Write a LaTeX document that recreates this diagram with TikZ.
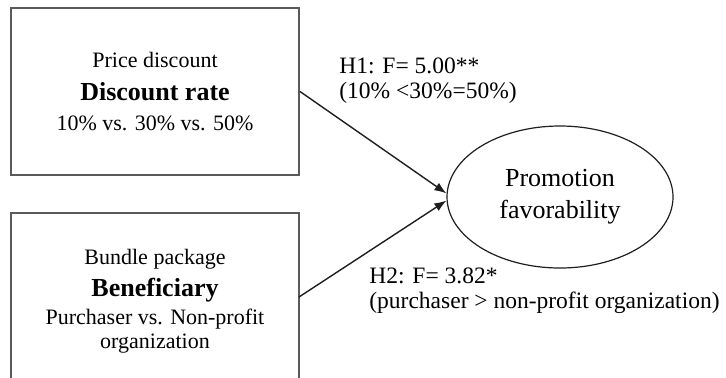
\documentclass[tikz,border=0pt]{standalone}
\usepackage{fontspec}
\setmainfont{Liberation Serif}
\usepackage{xcolor}
\definecolor{figCadre}{HTML}{5A5A5A}
\definecolor{figTrait}{HTML}{1E1E1E}
\usepackage{tikz}
\usetikzlibrary{arrows.meta, positioning, calc, shapes.geometric}
\tikzset{
  %% ── Boxes ────────────────────────────────────────────────────────────
  %% The two manipulated factors sit in plain rectangles; the outcome is
  %% the only rounded shape on the page.
  boite/.style       = {draw=figCadre, line width=1pt, minimum width=144pt,
                        inner sep=0pt},
  texteBoite/.style  = {align=center, inner sep=0pt,
                        font=\fontsize{11}{15}\selectfont},
  ovale/.style       = {ellipse, draw=figTrait, line width=0.6pt,
                        minimum width=113pt, minimum height=71pt,
                        inner sep=0pt, align=center,
                        font=\fontsize{13}{16}\selectfont},
  %%
  %% ── Arrows and labels ────────────────────────────────────────────────
  fleche/.style      = {-{Latex[length=6pt, width=4.5pt]}, draw=figTrait,
                        line width=0.7pt},
  legende/.style     = {anchor=west, align=left, inner sep=0pt,
                        font=\fontsize{11.75}{12.5}\selectfont},
}

\begin{document}
\begin{tikzpicture}[x=0.5pt, y=0.5pt]

\useasboundingbox (0,0) rectangle (726,-377);
\clip (0,0) rectangle (726,-377);

\node[boite, minimum height=83.5pt] (remise) at (155,-91.5) {};
\node[texteBoite] (remiseTxt) at (155,-92)
     {Price discount\\[1.5pt]
      {\fontsize{13}{15}\selectfont\bfseries Discount rate}\\
      10\% vs. 30\% vs. 50\%};

%% the lower box runs past the bottom of the page
\node[boite, minimum height=100pt] (forfait) at (155,-313) {};
\node[texteBoite] (forfaitTxt) at (155,-301)
     {Bundle package\\[1pt]
      {\fontsize{13}{15}\selectfont\bfseries Beneficiary}\\[-1pt]
      Purchaser vs. Non-profit\\[-3pt]
      organization};

\node[ovale] (attrait) at (560,-197) {Promotion\\favorability};

\coordinate (sortieBas) at (299,-297);

\draw[fleche] (remise.east) -- ([yshift=1.8pt]attrait.west);
\draw[fleche] (sortieBas) -- ([yshift=-1.8pt]attrait.west);

\node[legende] (h1) at (339,-81) {H1: F= 5.00**\\(10\% <30\%=50\%)};
\node[legende] (h2) at (369,-291)
     {H2: F= 3.82*\\(purchaser > non-profit organization)};

\end{tikzpicture}
\end{document}
